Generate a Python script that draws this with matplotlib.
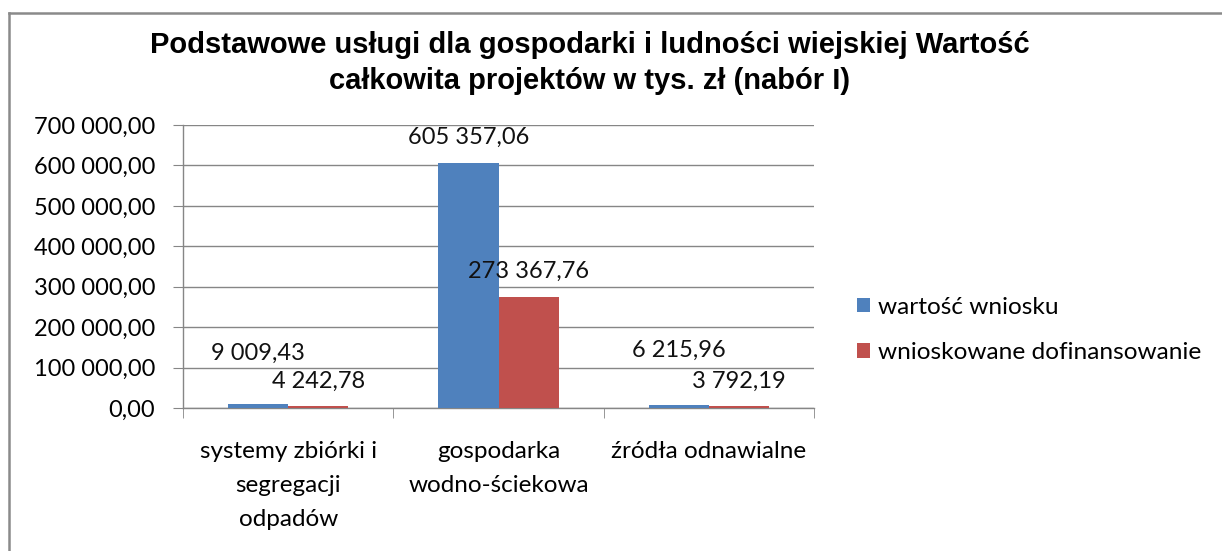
import matplotlib
matplotlib.use("Agg")
import matplotlib.pyplot as plt
from matplotlib.lines import Line2D
from matplotlib.ticker import FuncFormatter, MultipleLocator
import numpy as np

categories = ["systemy zbiórki i\nsegregacji\nodpadów", "gospodarka\nwodno-ściekowa", "źródła odnawialne"]
series_names = ["wartość wniosku", "wnioskowane dofinansowanie"]
wartosc = [9009.43, 605357.06, 6215.96]
dofinansowanie = [4242.78, 273367.76, 3792.19]
title = "Podstawowe usługi dla gospodarki i ludności wiejskiej Wartość\ncałkowita projektów w tys. zł (nabór I)"

BLUE = "#4F81BD"
RED = "#C0504D"
GRID = "#868686"
FONT = "Lato"

def fmt(v, pos=None):
    s = f"{v:,.2f}"
    return s.replace(",", " ").replace(".", ",")

fig = plt.figure(figsize=(12.22, 5.51), dpi=100)
W, H = 1222, 551
ax = fig.add_axes([183 / W, 1 - 408 / H, (814 - 183) / W, (408 - 125) / H])

x = np.arange(len(categories))
bw = 60 / 210
b1 = ax.bar(x - bw / 2, wartosc, bw, color=BLUE, label=series_names[0], zorder=3)
b2 = ax.bar(x + bw / 2, dofinansowanie, bw, color=RED, label=series_names[1], zorder=3)

ax.set_xlim(-0.5, 2.5)
ax.set_ylim(0, 700000)
ax.yaxis.set_major_locator(MultipleLocator(100000))
ax.yaxis.set_major_formatter(FuncFormatter(fmt))
ax.grid(axis="y", color=GRID, linewidth=1.0, zorder=0)
ax.set_axisbelow(True)
for s in ["top", "right"]:
    ax.spines[s].set_visible(False)
for s in ["left", "bottom"]:
    ax.spines[s].set_color(GRID)
    ax.spines[s].set_linewidth(1.0)

ax.set_xticks(x)
ax.set_xticklabels(categories, fontfamily=FONT, fontsize=17.5, linespacing=1.75)
ax.set_xticks(np.arange(-0.5, 3.0, 1.0), minor=True)
ax.tick_params(axis="x", which="major", length=0, pad=24)
ax.tick_params(axis="x", which="minor", length=7, color=GRID, direction="out")
ax.tick_params(axis="y", length=7, color=GRID, pad=13, labelsize=17)
for lab in ax.get_yticklabels():
    lab.set_fontfamily(FONT)
for lab in ax.get_xticklabels():
    lab.set_verticalalignment("top")

# data labels
off_blue = [37, 19, 40]
off_red = [18, 19, 18]
for xi, v, o in zip(x - bw / 2, wartosc, off_blue):
    ax.annotate(fmt(v), (xi, v), xytext=(0, o), textcoords="offset points",
                ha="center", va="center", fontfamily=FONT, fontsize=17, color="#111111")
for xi, v, o in zip(x + bw / 2, dofinansowanie, off_red):
    ax.annotate(fmt(v), (xi, v), xytext=(0, o), textcoords="offset points",
                ha="center", va="center", fontfamily=FONT, fontsize=17, color="#111111", zorder=5)

fig.text(590 / W, 1 - 63 / H, title, ha="center", va="center",
         fontfamily="Liberation Sans", fontweight="bold", fontsize=21, linespacing=1.32)

leg = fig.legend(handles=[b1, b2], labels=series_names, loc="center left",
                 bbox_to_anchor=(857 / W, 1 - 330 / H), frameon=False,
                 prop={"family": FONT, "size": 17.6}, handlelength=0.55, handleheight=0.55,
                 handletextpad=0.3, labelspacing=1.0, borderpad=0, borderaxespad=0)

# outer frame
fig.add_artist(Line2D([8.5 / W, 8.5 / W], [0, 1 - 13 / H], transform=fig.transFigure,
                      color="#8A8A8A", linewidth=1.8, solid_capstyle="projecting"))
fig.add_artist(Line2D([8.5 / W, 1], [1 - 13 / H, 1 - 13 / H], transform=fig.transFigure,
                      color="#8A8A8A", linewidth=1.8, solid_capstyle="projecting"))

fig.savefig("out.png", dpi=100)
